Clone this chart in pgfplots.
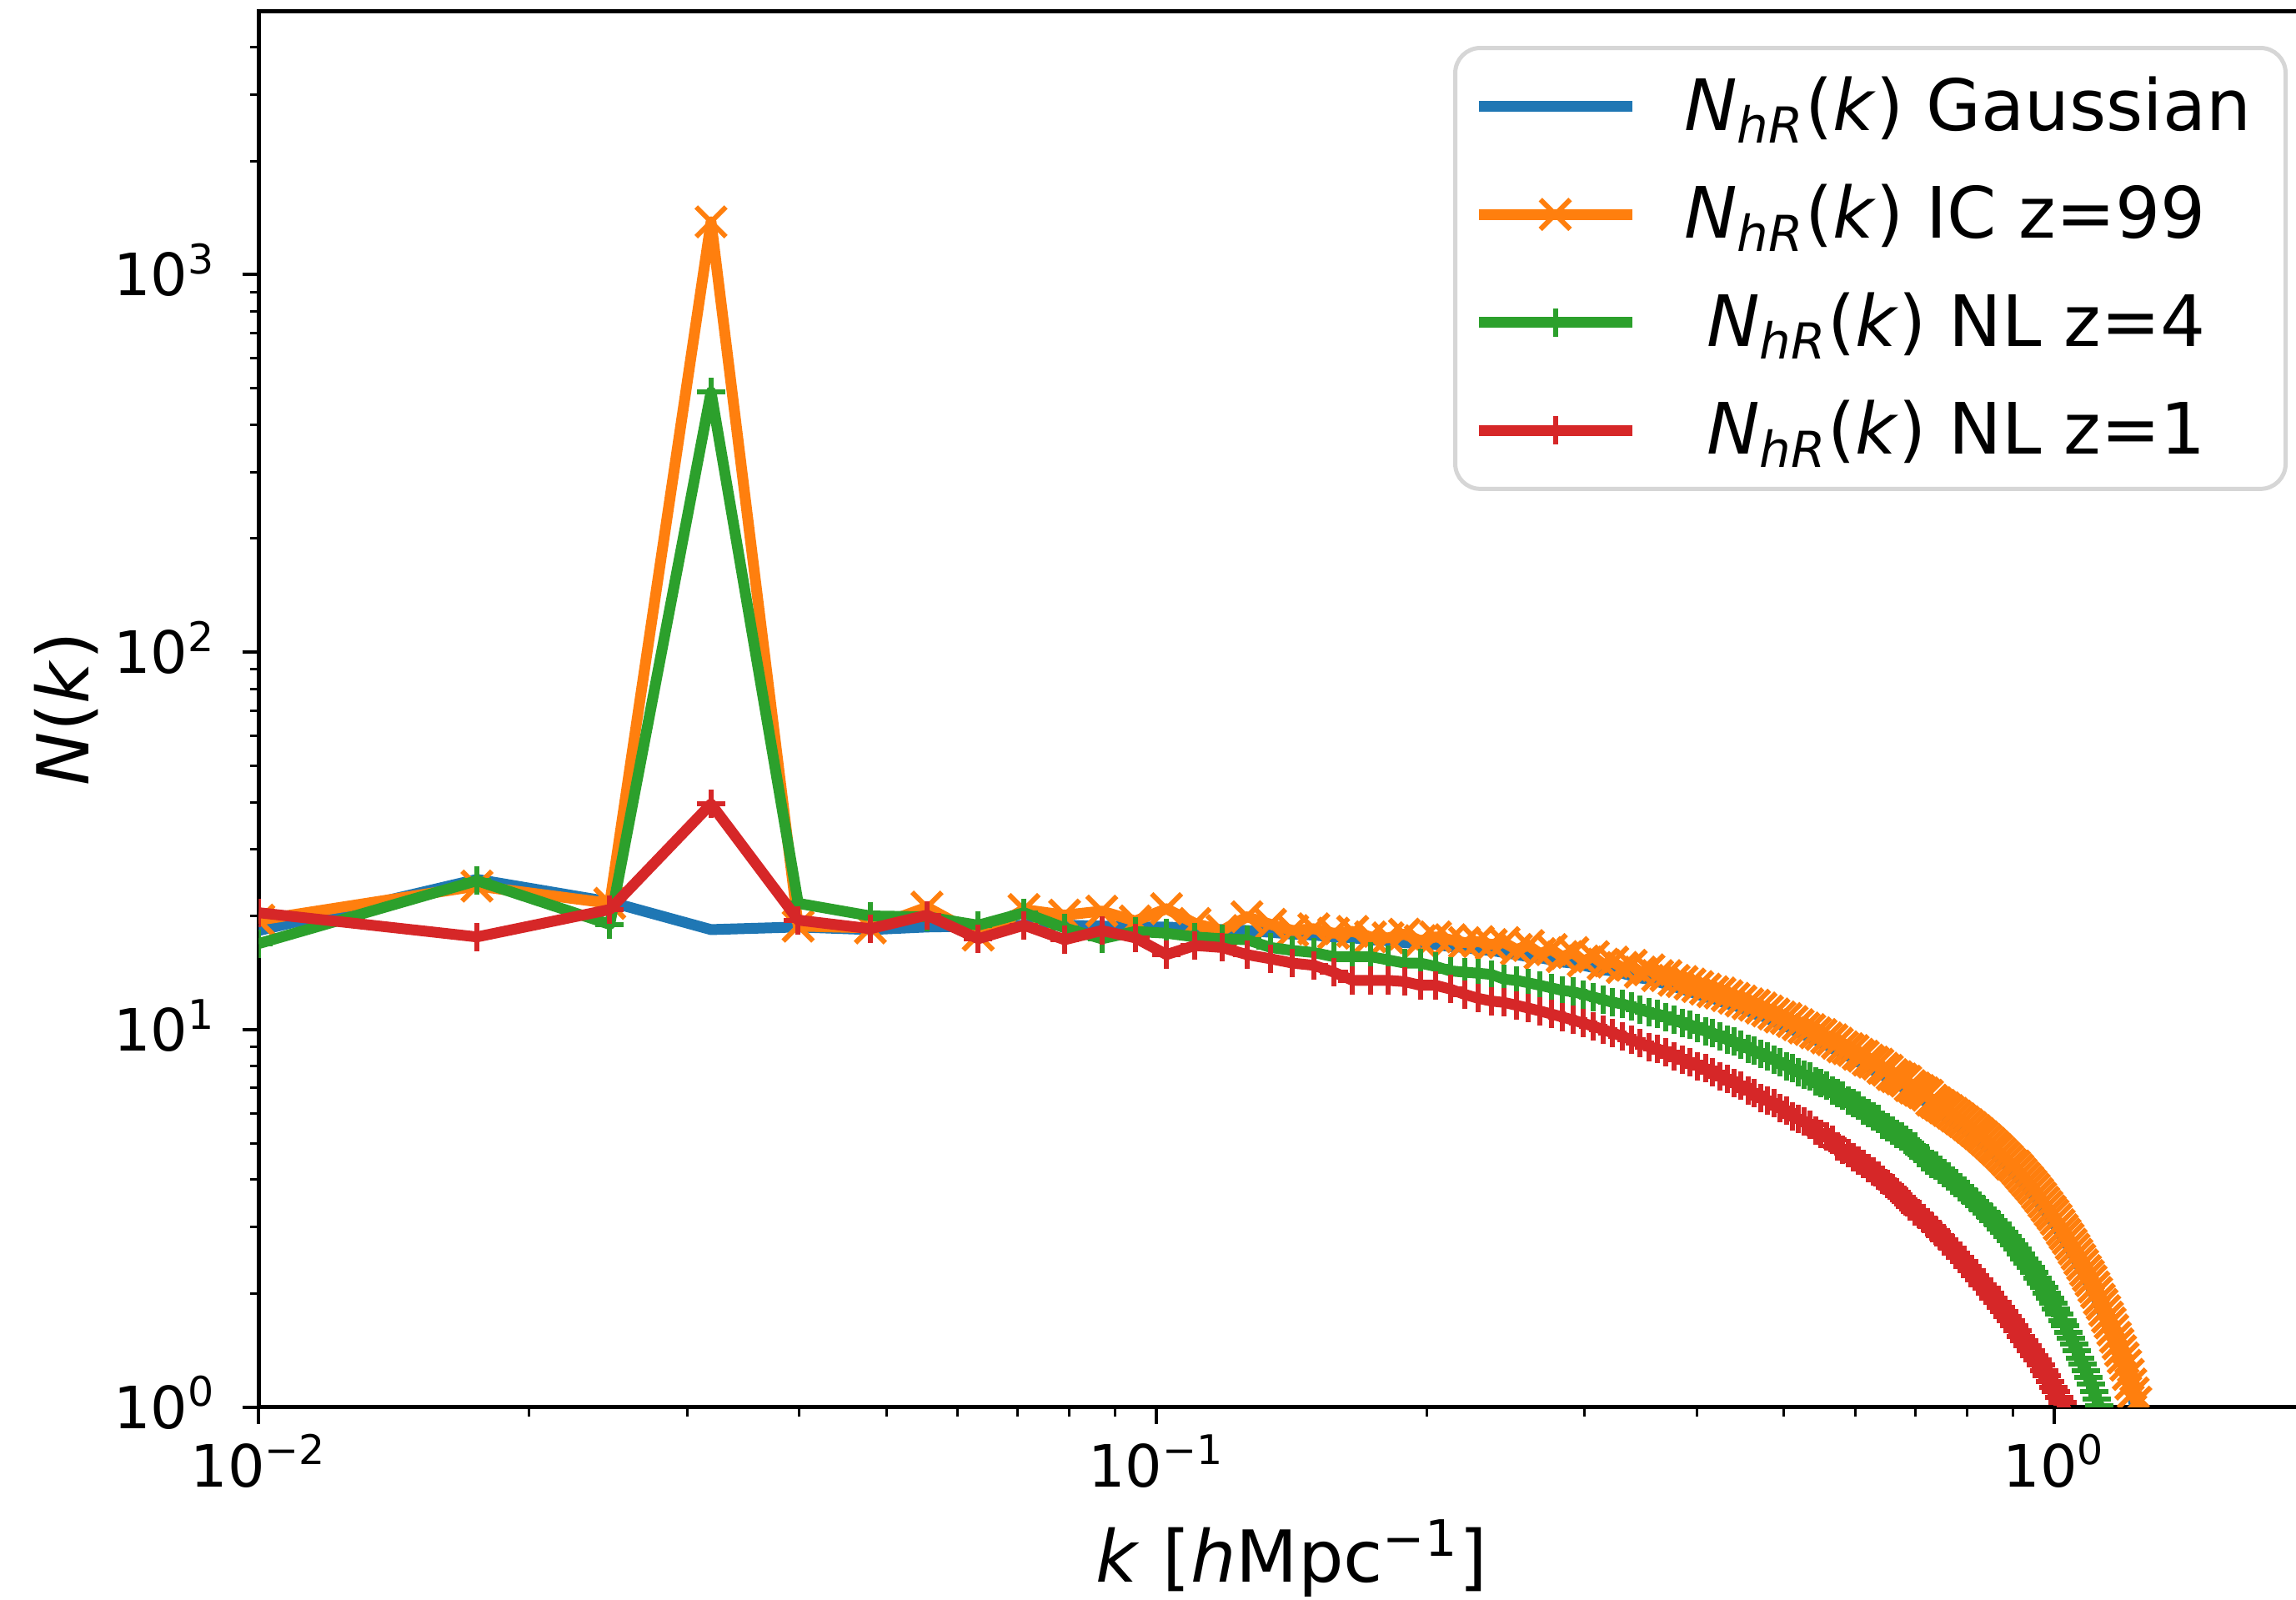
\documentclass[border=0pt]{standalone}
\usepackage{fontspec}
\setmainfont{DejaVu Sans}
\usepackage{pgfplots}
\pgfplotsset{compat=1.18}
\usepackage{pgfplotstable}
\definecolor{tabblue}{HTML}{1F77B4}
\definecolor{taborange}{HTML}{FF7F0E}
\definecolor{tabgreen}{HTML}{2CA02C}
\definecolor{tabred}{HTML}{D62728}
\definecolor{legframe}{HTML}{D6D6D6}
\newcommand{\Nhr}{\textit{N}\textsubscript{\textit{hR}}(\textit{k})}

\pgfplotstableread{
k B O G R
0.0100 18.3 19.5 16.9 20.4
0.0175 25.0 24.0 24.8 17.6
0.0246 21.8 21.6 19.0 20.8
0.0319 18.4 1380 489 39.6
0.0399 18.7 18.8 21.6 19.5
0.0480 18.4 18.6 20.0 18.5
0.0555 18.7 21.1 19.9 20.1
0.0633 18.8 17.8 18.9 17.4
0.0712 18.9 20.8 20.4 18.9
0.0790 18.9 20.1 18.6 17.3
0.0869 18.8 20.6 17.4 18.3
0.0947 18.7 19.4 18.2 17.5
0.1026 18.7 20.9 18.0 15.8
0.1104 18.5 19.1 17.6 16.7
0.1183 18.4 18.3 17.4 16.5
0.1261 18.3 19.9 17.3 15.8
0.1340 18.1 19.0 16.5 15.4
0.1418 17.9 18.3 16.2 15.0
0.1497 17.8 18.5 16.0 14.8
0.1575 17.6 18.0 15.6 14.2
0.1654 17.5 18.2 15.6 13.5
0.1732 17.3 17.6 15.6 13.5
0.1811 17.2 17.5 15.3 13.5
0.1889 17.0 17.9 15.0 13.4
0.1968 16.9 17.2 15.0 13.1
0.2046 16.8 17.6 14.7 13.1
0.2125 16.6 17.3 14.3 12.8
0.2203 16.5 17.0 14.2 12.4
0.2282 16.3 17.1 14.1 12.1
0.2360 16.2 16.8 14.0 11.9
0.2439 16.0 17.0 13.6 11.8
0.2517 15.8 16.3 13.5 11.6
0.2596 15.6 16.7 13.3 11.4
0.2674 15.5 15.9 13.1 11.2
0.2753 15.3 16.3 12.9 11.0
0.2831 15.1 15.6 12.7 10.8
0.2910 15.0 16.0 12.6 10.6
0.2988 14.8 15.2 12.4 10.4
0.3067 14.6 15.6 12.2 10.2
0.3145 14.4 14.9 12.0 10.0
0.3223 14.3 15.1 11.8 9.8
0.3302 14.1 14.6 11.7 9.6
0.3380 13.9 14.8 11.5 9.4
0.3459 13.7 14.2 11.3 9.2
0.3537 13.6 14.4 11.1 9.0
0.3616 13.4 13.9 11.0 8.9
0.3694 13.2 13.9 10.8 8.7
0.3773 13.0 13.5 10.6 8.5
0.3851 12.8 13.4 10.4 8.3
0.3930 12.6 13.2 10.3 8.2
0.4008 12.4 13.0 10.1 8.0
0.4087 12.2 12.8 9.9 7.9
0.4165 12.1 12.6 9.8 7.7
0.4244 11.9 12.5 9.6 7.5
0.4322 11.7 12.3 9.4 7.4
0.4401 11.6 12.1 9.3 7.2
0.4479 11.4 11.9 9.1 7.1
0.4558 11.2 11.7 8.9 6.9
0.4636 11.0 11.6 8.8 6.8
0.4715 10.9 11.4 8.6 6.6
0.4793 10.7 11.2 8.5 6.5
0.4872 10.5 11.0 8.3 6.4
0.4950 10.3 10.8 8.2 6.2
0.5029 10.2 10.7 8.0 6.1
0.5107 10.0 10.5 7.9 5.9
0.5186 9.85 10.3 7.7 5.8
0.5264 9.7 10.1 7.6 5.7
0.5343 9.5 10.0 7.5 5.6
0.5421 9.4 9.8 7.3 5.4
0.5500 9.2 9.7 7.2 5.3
0.5578 9.1 9.5 7.1 5.2
0.5657 8.9 9.4 6.9 5.1
0.5735 8.8 9.2 6.8 4.9
0.5814 8.6 9.0 6.7 4.8
0.5892 8.5 8.9 6.5 4.7
0.5971 8.4 8.8 6.4 4.6
0.6049 8.2 8.6 6.3 4.5
0.6128 8.1 8.5 6.1 4.4
0.6206 7.95 8.3 6.0 4.3
0.6285 7.8 8.2 5.9 4.2
0.6363 7.7 8.1 5.8 4.1
0.6442 7.6 7.9 5.6 4.0
0.6520 7.4 7.8 5.5 3.9
0.6599 7.3 7.6 5.4 3.8
0.6677 7.2 7.5 5.3 3.7
0.6756 7.1 7.4 5.2 3.6
0.6834 6.9 7.3 5.1 3.5
0.6913 6.8 7.1 5.0 3.4
0.6991 6.7 7.0 4.9 3.3
0.7070 6.6 6.9 4.7 3.25
0.7148 6.5 6.8 4.6 3.17
0.7227 6.4 6.7 4.5 3.09
0.7305 6.3 6.5 4.4 3.01
0.7384 6.2 6.4 4.35 2.93
0.7462 6.0 6.3 4.26 2.85
0.7541 5.9 6.2 4.17 2.78
0.7619 5.8 6.1 4.08 2.70
0.7698 5.7 6.0 3.99 2.63
0.7776 5.6 5.9 3.91 2.56
0.7855 5.5 5.8 3.82 2.49
0.7933 5.45 5.7 3.74 2.43
0.8012 5.36 5.6 3.66 2.36
0.8090 5.26 5.5 3.58 2.30
0.8169 5.16 5.4 3.50 2.23
0.8247 5.06 5.3 3.42 2.17
0.8326 4.97 5.2 3.35 2.11
0.8404 4.88 5.1 3.27 2.06
0.8483 4.79 5.0 3.20 2.00
0.8561 4.69 4.9 3.12 1.94
0.8640 4.60 4.8 3.05 1.89
0.8718 4.50 4.7 2.97 1.84
0.8797 4.41 4.6 2.90 1.79
0.8875 4.33 4.5 2.83 1.74
0.8954 4.24 4.4 2.76 1.69
0.9032 4.15 4.35 2.69 1.64
0.9111 4.05 4.25 2.62 1.59
0.9189 3.96 4.15 2.54 1.54
0.9268 3.87 4.05 2.47 1.50
0.9346 3.78 3.96 2.40 1.45
0.9425 3.69 3.87 2.34 1.41
0.9503 3.61 3.78 2.27 1.37
0.9582 3.52 3.68 2.20 1.33
0.9660 3.42 3.59 2.13 1.29
0.9739 3.34 3.49 2.07 1.25
0.9817 3.25 3.40 2.00 1.21
0.9896 3.16 3.31 1.94 1.17
0.9974 3.08 3.23 1.88 1.13
1.0053 2.99 3.14 1.82 1.10
1.0131 2.91 3.04 1.76 1.06
1.0210 2.82 2.95 1.69 1.03
1.0288 2.74 2.87 1.64 0.996
1.0367 2.66 2.79 1.58 0.964
1.0445 2.58 2.70 1.52 0.933
1.0524 2.50 2.62 1.47 0.903
1.0602 2.42 2.54 1.41 0.872
1.0681 2.35 2.46 1.35 0.843
1.0759 2.27 2.38 1.30 0.814
1.0838 2.20 2.30 1.25 0.787
1.0916 2.13 2.23 1.20 0.760
1.0995 2.06 2.16 1.15 0.734
1.1073 1.99 2.08 1.10 0.709
1.1152 1.92 2.01 1.05 0.683
1.1230 1.85 1.93 1.006 0.659
1.1309 1.78 1.87 0.961 0.636
1.1387 1.72 1.80 0.919 0.613
1.1466 1.66 1.73 0.878 0.591
1.1544 1.59 1.67 0.838 0.570
1.1623 1.52 1.60 0.798 0.548
1.1701 1.46 1.53 0.760 0.528
1.1780 1.40 1.47 0.723 0.508
1.1858 1.34 1.41 0.689 0.490
1.1937 1.29 1.35 0.656 0.471
1.2015 1.23 1.29 0.624 0.454
1.2094 1.16 1.22 0.591 0.436
1.2172 1.10 1.15 0.560 0.419
1.2251 1.04 1.09 0.530 0.402
1.2329 0.984 1.03 0.503 0.387
1.2408 0.930 0.974 0.476 0.372
1.2486 0.880 0.921 0.451 0.357
1.2565 0.830 0.869 0.427 0.343
1.2643 0.784 0.821 0.405 0.330
1.2722 0.740 0.774 0.383 0.317
}\datatab

\begin{document}
\begin{tikzpicture}
\begin{axis}[
  scale only axis, width=495.5pt, height=334.9pt,
  xmode=log, ymode=log,
  xmin=0.01, xmax=2, ymin=1, ymax=5000,
  axis line style={line width=1pt, black},
  tick align=outside,
  xtick pos=left, ytick pos=left,
  xtick={0.01,0.1,1},
  xticklabels={10\textsuperscript{−2},10\textsuperscript{−1},10\textsuperscript{0}},
  minor xtick={0.02,0.03,0.04,0.05,0.06,0.07,0.08,0.09,0.2,0.3,0.4,0.5,0.6,0.7,0.8,0.9},
  ytick={1,10,100,1000},
  yticklabels={10\textsuperscript{0},10\textsuperscript{1},10\textsuperscript{2},10\textsuperscript{3}},
  minor ytick={2,3,4,5,6,7,8,9,20,30,40,50,60,70,80,90,200,300,400,500,600,700,800,900,2000,3000,4000},
  major tick length=4pt, minor tick length=2.2pt,
  tick style={black, line width=0.8pt},
  minor tick style={line width=0.6pt},
  tick label style={font=\fontsize{14}{16.8}\selectfont},
  xticklabel style={anchor=base, inner sep=0pt, yshift=-15.1pt},
  yticklabel style={anchor=base east, inner sep=0pt, yshift=-5.1pt, xshift=-6.1pt},
  label style={font=\fontsize{17.2}{20.5}\selectfont},
  xlabel={\textit{k} [\textit{h}Mpc\textsuperscript{−1}]},
  ylabel={\textit{N}(\textit{k})},
  xlabel style={at={(axis description cs:0.5,0)}, anchor=base, yshift=-42pt},
  ylabel style={at={(axis description cs:-0.0934,0.5)}, anchor=center},
  clip marker paths=true,
  every axis plot/.append style={line join=round},
  legend cell align=left,
  legend style={at={(axis description cs:0.98224,0.97492)}, anchor=north east,
    draw=legframe, line width=1pt, rounded corners=6pt, fill=white,
    font=\fontsize{17}{20.4}\selectfont,
    inner xsep=4.3pt, inner ysep=6.8pt, row sep=11.5pt,
    nodes={inner sep=0pt}},
  legend image code/.code={%
    \path (0pt,0pt) (48pt,0pt);
    \draw[mark repeat=2,mark phase=2,#1] plot coordinates {(0pt,0pt) (18.4pt,0pt) (36.8pt,0pt)};},
]
\addplot[tabblue, line width=2.6pt] table[x=k,y=B]{\datatab};
\addlegendentry{\Nhr{} Gaussian\hspace*{3.9pt}}
\addplot[taborange, line width=2.6pt, mark=x, mark size=5.05pt, mark options={line width=1.2pt, solid}] table[x=k,y=O]{\datatab};
\addlegendentry{\Nhr{} IC z=99}
\addplot[tabgreen, line width=2.6pt, mark=+, mark size=3.4pt, mark options={line width=1.2pt, solid}] table[x=k,y=G]{\datatab};
\addlegendentry{\hspace*{5.4pt}\Nhr{} NL z=4}
\addplot[tabred, line width=2.6pt, mark=+, mark size=3.4pt, mark options={line width=1.2pt, solid}] table[x=k,y=R]{\datatab};
\addlegendentry{\hspace*{5.4pt}\Nhr{} NL z=1}
\end{axis}
\pgfresetboundingbox
\path[use as bounding box] (-62.1pt,-46.2pt) rectangle (488.7pt,337.5pt);
\end{tikzpicture}
\end{document}
